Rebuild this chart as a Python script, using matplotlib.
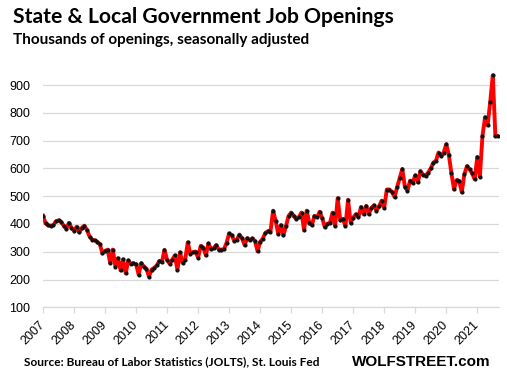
import numpy as np
import matplotlib
matplotlib.use("Agg")
import matplotlib.pyplot as plt

# monthly job openings, thousands, Jan 2007 .. Sep 2021
openings = [
    430, 402, 395, 394, 396, 410, 413, 408, 394, 383, 404, 387,
    376, 390, 370, 386, 394, 378, 355, 344, 341, 336, 327, 294,
    303, 308, 259, 308, 247, 277, 233, 273, 223, 269, 257, 259,
    255, 218, 259, 247, 239, 211, 236, 242, 251, 267, 263, 307,
    271, 257, 272, 287, 235, 298, 261, 272, 334, 293, 298, 301,
    279, 321, 315, 287, 330, 309, 313, 324, 308, 308, 309, 332,
    366, 359, 339, 344, 362, 348, 324, 349, 342, 348, 339, 302,
    336, 347, 368, 374, 373, 448, 411, 364, 396, 359, 393, 429,
    441, 429, 418, 425, 441, 378, 448, 405, 396, 429, 424, 444,
    421, 389, 401, 404, 441, 393, 493, 413, 418, 393, 487, 405,
    423, 435, 424, 461, 436, 465, 436, 457, 467, 448, 463, 484,
    459, 524, 524, 516, 497, 533, 565, 598, 533, 520, 556, 548,
    575, 550, 590, 578, 573, 585, 600, 621, 627, 657, 644, 657,
    687, 648, 582, 525, 558, 555, 514, 579, 608, 597, 582, 561,
    641, 570, 716, 784, 755, 839, 935, 716, 716,
]
year_labels = ["2007", "2008", "2009", "2010", "2011", "2012", "2013", "2014",
               "2015", "2016", "2017", "2018", "2019", "2020", "2021"]
y_ticks = [100, 200, 300, 400, 500, 600, 700, 800, 900]

title = "State & Local Government Job Openings"
subtitle = "Thousands of openings, seasonally adjusted"
source = "Source: Bureau of Labor Statistics (JOLTS), St. Louis Fed"

fig = plt.figure(figsize=(5.07, 3.80), dpi=100)
ax = fig.add_axes([43 / 507, 1 - 307.4 / 380, (499 - 43) / 507, (307.4 - 71.1) / 380])

x = np.arange(len(openings))
ax.plot(x, openings, color="#ff0000", lw=2.8, zorder=3, solid_joinstyle="round")
ax.plot(x, openings, ls="none", marker="o", ms=2.0, color="#111111", zorder=4)

ax.set_xlim(0, len(openings) - 0.6)
ax.set_ylim(100, 950)

ax.set_yticks(y_ticks)
ax.set_yticklabels([str(v) for v in y_ticks], fontsize=9, family="Liberation Sans")
ax.tick_params(axis="y", length=0, pad=9)
ax.yaxis.grid(True, color="#d9d9d9", lw=0.9)
ax.set_axisbelow(True)

ax.set_xticks(np.arange(len(year_labels)) * 12)
ax.set_xticklabels(year_labels, fontsize=9, family="Liberation Sans",
                   rotation=45, ha="right", va="center", rotation_mode="anchor")
ax.tick_params(axis="x", length=4, color="#d9d9d9", width=0.9, pad=7)

for side in ["top", "right", "left"]:
    ax.spines[side].set_visible(False)
ax.spines["bottom"].set_color("#d9d9d9")
ax.spines["bottom"].set_linewidth(0.9)

fig.text(13 / 507, 1 - 17 / 380, title, fontsize=15.2, fontweight="bold",
         family="Lato", va="center", ha="left")
fig.text(13 / 507, 1 - 40 / 380, subtitle, fontsize=11, fontweight="bold",
         family="Lato", va="center", ha="left")
fig.text(24 / 507, 1 - 362 / 380, source, fontsize=8.6, fontweight="bold",
         family="Lato", va="center", ha="left")
fig.text(491 / 507, 1 - 362 / 380, "WOLFSTREET.com", fontsize=11, fontweight="bold",
         family="Liberation Sans", va="center", ha="right")

fig.savefig("out.png", dpi=100)
